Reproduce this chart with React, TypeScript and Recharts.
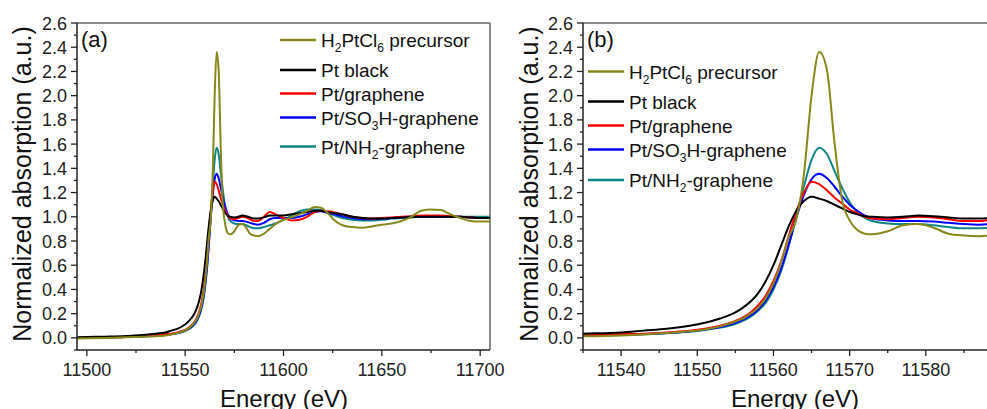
import React from 'react';
import { LineChart, Line, XAxis, YAxis, ReferenceLine } from 'recharts';

// photon energy grid (eV), shared by all spectra
const energy = [
  11495, 11500, 11510, 11520, 11530, 11535,
  11540, 11543, 11546, 11549, 11551, 11553,
  11555, 11556, 11557, 11558, 11559, 11560, 11561, 11562,
  11563, 11564, 11565, 11566, 11567, 11568, 11569, 11570,
  11571, 11572, 11573, 11575, 11577, 11579, 11581, 11583,
  11585, 11587, 11590, 11593, 11596, 11600, 11604, 11608,
  11612, 11616, 11619, 11622, 11626, 11630, 11635, 11640,
  11645, 11650, 11655, 11660, 11665, 11670, 11675, 11680,
  11685, 11690, 11695, 11700, 11705,
];

const precursor = [
  -0.005, -0.004, 0.0, 0.005, 0.01, 0.013,
  0.02, 0.028, 0.04, 0.055, 0.07, 0.095,
  0.135, 0.16, 0.2, 0.25, 0.33, 0.45, 0.62, 0.83,
  0.98, 1.35, 2.0, 2.36, 2.22, 1.62, 1.14, 0.97,
  0.89, 0.86, 0.855, 0.88, 0.93, 0.94, 0.91, 0.86,
  0.845, 0.84, 0.86, 0.9, 0.94, 0.975, 0.995, 1.02,
  1.05, 1.08, 1.075, 1.04, 0.97, 0.93, 0.915, 0.91,
  0.92, 0.935, 0.945, 0.965, 1.0, 1.05, 1.06, 1.055,
  1.02, 0.99, 0.965, 0.96, 0.96,
];

const ptBlack = [
  0.005, 0.007, 0.01, 0.015, 0.025, 0.035,
  0.045, 0.06, 0.075, 0.1, 0.125, 0.16,
  0.21, 0.25, 0.3, 0.37, 0.47, 0.6, 0.76, 0.92,
  1.05, 1.13, 1.165, 1.15, 1.13, 1.1, 1.07, 1.04,
  1.02, 1.005, 1.0, 0.995, 1.0, 1.01, 1.005, 0.995,
  0.985, 0.985, 0.995, 1.01, 1.01, 1.01, 1.02, 1.03,
  1.04, 1.05, 1.05, 1.04, 1.03, 1.02, 1.0, 0.99,
  0.985, 0.985, 0.99, 0.995, 1.0, 1.0, 1.0, 1.0,
  1.0, 1.0, 0.995, 0.99, 0.99,
];

const ptGraphene = [
  0.0, 0.002, 0.005, 0.008, 0.015, 0.02,
  0.03, 0.035, 0.045, 0.06, 0.075, 0.1,
  0.14, 0.17, 0.21, 0.27, 0.35, 0.47, 0.63, 0.84,
  1.04, 1.2, 1.29, 1.27, 1.22, 1.16, 1.11, 1.06,
  1.03, 1.0, 0.985, 0.98, 0.99, 1.0, 0.995, 0.98,
  0.965, 0.965, 1.0, 1.04, 1.02, 0.99, 0.97, 0.975,
  1.0, 1.04, 1.05, 1.045, 1.035, 1.02, 1.0, 0.99,
  0.985, 0.99, 0.995, 1.0, 1.005, 1.01, 1.01, 1.01,
  1.005, 1.0, 0.995, 0.99, 0.99,
];

const ptSO3H = [
  0.0, 0.002, 0.005, 0.008, 0.014, 0.018,
  0.026, 0.032, 0.04, 0.055, 0.07, 0.09,
  0.125, 0.15, 0.185, 0.235, 0.31, 0.42, 0.57, 0.77,
  0.99, 1.18, 1.31, 1.355, 1.32, 1.25, 1.17, 1.1,
  1.05, 1.01, 0.985, 0.97, 0.965, 0.965, 0.96, 0.95,
  0.94, 0.935, 0.95, 0.98, 0.99, 0.99, 0.99, 1.0,
  1.02, 1.04, 1.045, 1.035, 1.02, 1.005, 0.99, 0.98,
  0.98, 0.985, 0.99, 0.995, 1.0, 1.0, 1.0, 1.0,
  1.0, 1.0, 0.995, 0.99, 0.99,
];

const ptNH2 = [
  0.0, 0.002, 0.004, 0.007, 0.013, 0.017,
  0.024, 0.03, 0.038, 0.05, 0.065, 0.085,
  0.115, 0.14, 0.175, 0.225, 0.29, 0.4, 0.55, 0.76,
  1.0, 1.25, 1.47, 1.57, 1.52, 1.38, 1.24, 1.12,
  1.04, 0.99, 0.965, 0.945, 0.94, 0.94, 0.93, 0.915,
  0.905, 0.905, 0.915, 0.93, 0.945, 0.975, 1.01, 1.045,
  1.06, 1.06, 1.055, 1.035, 1.01, 0.99, 0.975, 0.97,
  0.97, 0.975, 0.985, 0.99, 0.995, 1.0, 1.005, 1.005,
  1.0, 1.0, 1.0, 1.0, 1.0,
];

const yTicks = [
  -0.1, 0.0, 0.1, 0.2, 0.3, 0.4, 0.5, 0.6, 0.7, 0.8, 0.9, 1.0, 1.1, 1.2, 1.3,
  1.4, 1.5, 1.6, 1.7, 1.8, 1.9, 2.0, 2.1, 2.2, 2.3, 2.4, 2.5, 2.6,
];
const xTicksA = [11500, 11525, 11550, 11575, 11600, 11625, 11650, 11675, 11700];
const xTicksB = [11535, 11540, 11545, 11550, 11555, 11560, 11565, 11570, 11575, 11580, 11585];

const rows = energy.map((e, i) => ({
  e,
  precursor: precursor[i],
  ptBlack: ptBlack[i],
  ptGraphene: ptGraphene[i],
  ptSO3H: ptSO3H[i],
  ptNH2: ptNH2[i],
}));

type Part = { t: string; sub?: boolean };
const series: { key: string; color: string; label: Part[] }[] = [
  { key: 'precursor', color: '#87871a', label: [{ t: 'H' }, { t: '2', sub: true }, { t: 'PtCl' }, { t: '6', sub: true }, { t: ' precursor' }] },
  { key: 'ptBlack', color: '#000000', label: [{ t: 'Pt black' }] },
  { key: 'ptGraphene', color: '#ff0000', label: [{ t: 'Pt/graphene' }] },
  { key: 'ptSO3H', color: '#0000ff', label: [{ t: 'Pt/SO' }, { t: '3', sub: true }, { t: 'H-graphene' }] },
  { key: 'ptNH2', color: '#0e8585', label: [{ t: 'Pt/NH' }, { t: '2', sub: true }, { t: '-graphene' }] },
];

const FONT = '"Liberation Sans", Arial, sans-serif';
const INK = '#222';

const YTick = (props: any) => {
  const { x, y, payload } = props;
  const v = payload.value as number;
  const major = Math.round(v * 10) % 2 === 0;
  return (
    <g>
      <line x1={x} x2={x - (major ? 6 : 3)} y1={y} y2={y} stroke={INK} strokeWidth={1.3} />
      {major && (
        <text x={x - 10} y={y} dy={6.5} textAnchor="end" fontSize={18} fontFamily={FONT} fill={INK}>
          {v.toFixed(1)}
        </text>
      )}
    </g>
  );
};

const makeXTick = (step: number) => (props: any) => {
  const { x, y, payload } = props;
  const v = payload.value as number;
  const major = v % step === 0;
  return (
    <g>
      <line x1={x} x2={x} y1={y} y2={y + (major ? 6 : 3)} stroke={INK} strokeWidth={1.3} />
      {major && (
        <text x={x} y={y + 26} textAnchor="middle" fontSize={18} fontFamily={FONT} fill={INK}>
          {v}
        </text>
      )}
    </g>
  );
};

const Legend = ({ x, rowsY }: { x: number; rowsY: number[] }) => (
  <g>
    {series.map((s, i) => (
      <g key={s.key}>
        <line x1={x} x2={x + 36} y1={rowsY[i]} y2={rowsY[i]} stroke={s.color} strokeWidth={2.5} />
        <text x={x + 41} y={rowsY[i] + 7} fontSize={19} fontFamily={FONT} fill="#111">
          {s.label.map((p, j) =>
            p.sub ? (
              <tspan key={j} fontSize={12} dy={5}>{p.t}</tspan>
            ) : (
              <tspan key={j} dy={j > 0 && s.label[j - 1].sub ? -5 : 0}>{p.t}</tspan>
            )
          )}
        </text>
      </g>
    ))}
  </g>
);

const drawOrder = ['ptNH2', 'ptSO3H', 'ptGraphene', 'ptBlack', 'precursor'];

export default function App() {
  const lines = drawOrder.map((k) => {
    const s = series.find((d) => d.key === k)!;
    return (
      <Line
        key={k}
        type="monotone"
        dataKey={k}
        stroke={s.color}
        strokeWidth={2}
        dot={false}
        isAnimationActive={false}
      />
    );
  });

  return (
    <div style={{ position: 'absolute', left: 0, top: 0, width: 987, height: 409, overflow: 'hidden', background: '#fff' }}>
      <div style={{ position: 'absolute', left: 0, top: 0 }}>
        <LineChart width={520} height={409} data={rows} margin={{ top: 23, right: 30, bottom: 29, left: 37 }}>
          <XAxis
            dataKey="e"
            type="number"
            domain={[11495, 11705]}
            ticks={xTicksA}
            interval={0}
            allowDataOverflow
            height={30}
            tickSize={0}
            tickMargin={0}
            tick={makeXTick(50)}
            axisLine={{ stroke: INK, strokeWidth: 1.5 }}
          />
          <YAxis
            type="number"
            domain={[-0.1, 2.6]}
            ticks={yTicks}
            interval={0}
            allowDataOverflow
            width={40}
            tickSize={0}
            tickMargin={0}
            tick={YTick}
            axisLine={{ stroke: INK, strokeWidth: 1.5 }}
          />
          <ReferenceLine y={2.6} stroke="#666" strokeWidth={1.5} />
          <ReferenceLine x={11705} stroke="#666" strokeWidth={1.5} />
          {lines}
        </LineChart>
      </div>
      <div style={{ position: 'absolute', left: 490, top: 0 }}>
        <LineChart width={512} height={409} data={rows} margin={{ top: 23, right: 0, bottom: 29, left: 53 }}>
          <XAxis
            dataKey="e"
            type="number"
            domain={[11535, 11590]}
            ticks={xTicksB}
            interval={0}
            allowDataOverflow
            height={30}
            tickSize={0}
            tickMargin={0}
            tick={makeXTick(10)}
            axisLine={{ stroke: INK, strokeWidth: 1.5 }}
          />
          <YAxis
            type="number"
            domain={[-0.1, 2.6]}
            ticks={yTicks}
            interval={0}
            allowDataOverflow
            width={40}
            tickSize={0}
            tickMargin={0}
            tick={YTick}
            axisLine={{ stroke: INK, strokeWidth: 1.5 }}
          />
          <ReferenceLine y={2.6} stroke="#666" strokeWidth={1.5} />
          {lines}
        </LineChart>
      </div>
      <svg width={987} height={409} style={{ position: 'absolute', left: 0, top: 0, pointerEvents: 'none' }}>
        <text x={81} y={47} fontSize={22} fontFamily={FONT} fill="#111">(a)</text>
        <text x={587} y={47} fontSize={22} fontFamily={FONT} fill="#111">(b)</text>
        <Legend x={280} rowsY={[40, 70, 93.5, 117.5, 146.5]} />
        <Legend x={588} rowsY={[71.5, 101.5, 125.5, 149.5, 180]} />
        <text x={284} y={407} textAnchor="middle" fontSize={24} fontFamily={FONT} fill="#111">Energy (eV)</text>
        <text x={795} y={407} textAnchor="middle" fontSize={24} fontFamily={FONT} fill="#111">Energy (eV)</text>
        <text x={31} y={184} transform="rotate(-90 31 184)" textAnchor="middle" fontSize={25} fontFamily={FONT} fill="#111">
          Normalized absorption (a.u.)
        </text>
        <text x={538} y={184} transform="rotate(-90 538 184)" textAnchor="middle" fontSize={25} fontFamily={FONT} fill="#111">
          Normalized absorption (a.u.)
        </text>
      </svg>
    </div>
  );
}
